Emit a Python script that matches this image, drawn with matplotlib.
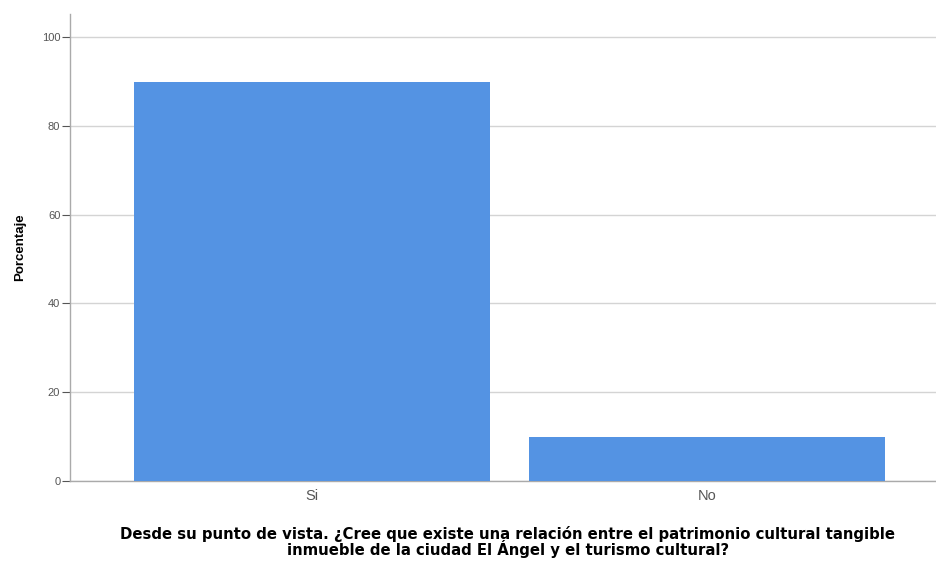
import matplotlib.pyplot as plt
import numpy as np

categories = ['Si', 'No']
percent = [90.0, 10.0]

plt.rcParams['font.family'] = ['Liberation Sans', 'DejaVu Sans']

fig = plt.figure(figsize=(9.37, 5.62), dpi=100)
ax = fig.add_axes([0.0747, 0.144, 0.9253, 0.831])

x = np.arange(len(categories))
ax.bar(x, percent, width=0.9, color='#5493e3', zorder=3)

ax.set_xlim(-0.613, 1.582)
ax.set_ylim(0, 105.2)
ax.set_yticks([0, 20, 40, 60, 80, 100])
ax.set_xticks(x)
ax.set_xticklabels(categories, fontsize=10.5, color='#555555')
ax.tick_params(axis='y', labelsize=8, colors='#555555', length=6, width=0.8, pad=1)
ax.tick_params(axis='x', length=0, pad=6)
ax.yaxis.grid(True, color='#d4d4d4', linewidth=1, zorder=0)

for s in ['top', 'right']:
    ax.spines[s].set_visible(False)
for s in ['left', 'bottom']:
    ax.spines[s].set_color('#aaaaaa')
    ax.spines[s].set_linewidth(1)

ax.set_ylabel('Porcentaje', fontsize=9.5, fontweight='bold', labelpad=11)

# question text below the axis, wide font like the original
fig.text(508 / 937, 1 - 542 / 562,
         'Desde su punto de vista. ¿Cree que existe una relación entre el patrimonio cultural tangible\n'
         'inmueble de la ciudad El Ángel y el turismo cultural?',
         family=['DejaVu Sans'], fontsize=10.7, fontweight='bold',
         ha='center', va='center', linespacing=0.85, multialignment='center')

fig.savefig('out.png', dpi=100)
